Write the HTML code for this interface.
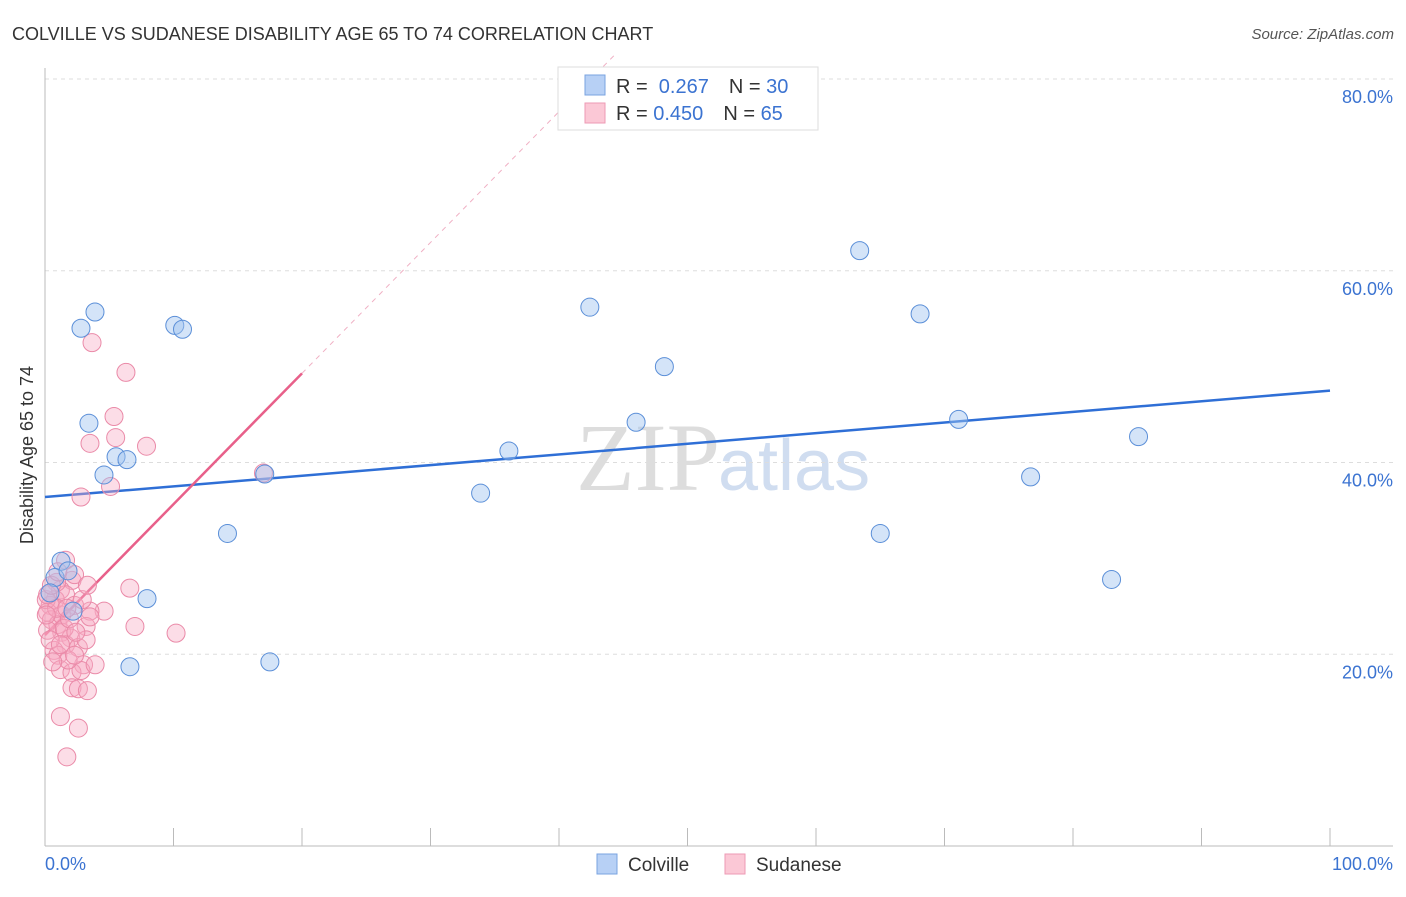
<!DOCTYPE html>
<html><head><meta charset="utf-8"><style>
body{margin:0;background:#fff;font-family:"Liberation Sans",sans-serif}
</style></head><body>
<svg width="1406" height="892" xmlns="http://www.w3.org/2000/svg" font-family="Liberation Sans, sans-serif">
<text x="12" y="40" font-size="18" fill="#333">COLVILLE VS SUDANESE DISABILITY AGE 65 TO 74 CORRELATION CHART</text>
<text x="1394" y="39" font-size="15" fill="#555" font-style="italic" text-anchor="end">Source: ZipAtlas.com</text>
<text x="720" y="490" font-size="96" fill="#ddd" text-anchor="end" font-family="Liberation Serif, serif">ZIP</text>
<text x="718" y="490" font-size="72" fill="#d0ddf0">atlas</text>
<g id="grid"></g><g id="axes"></g><g id="lines"></g><g id="pts"></g>
<text transform="translate(33,455) rotate(-90)" font-size="18" fill="#333" text-anchor="middle">Disability Age 65 to 74</text>
<text x="45" y="870" font-size="18" fill="#3b73d1">0.0%</text>
<text x="1393" y="870" font-size="18" fill="#3b73d1" text-anchor="end">100.0%</text>
<g>
<rect x="558" y="67" width="260" height="63" fill="#fff" stroke="#ddd"/>
<rect x="585" y="75" width="20" height="20" fill="#b7d0f5" stroke="#7aa3e0"/>
<rect x="585" y="103" width="20" height="20" fill="#fbc8d6" stroke="#ee9ab4"/>
<text x="616" y="93" font-size="20" fill="#333">R = <tspan fill="#3b73d1">&#160;0.267</tspan><tspan dx="20">N = </tspan><tspan fill="#3b73d1">30</tspan></text>
<text x="616" y="120" font-size="20" fill="#333">R = <tspan fill="#3b73d1">0.450</tspan><tspan dx="20">N = </tspan><tspan fill="#3b73d1">65</tspan></text>
</g>
<g>
<rect x="597" y="854" width="20" height="20" fill="#b7d0f5" stroke="#7aa3e0"/>
<text x="628" y="871" font-size="19" fill="#333">Colville</text>
<rect x="725" y="854" width="20" height="20" fill="#fbc8d6" stroke="#ee9ab4"/>
<text x="756" y="871" font-size="19" fill="#333">Sudanese</text>
</g>
</svg>
<script>
const yTicks=[20,40,60,80];
const yTickLabels=["20.0%","40.0%","60.0%","80.0%"];
const xTicks=[0,10,20,30,40,50,60,70,80,90,100];
const colvilleX=[3.89,2.80,10.1,10.7,42.4,63.4,68.1,48.2,3.42,46.0,71.1,85.1,36.1,5.53,6.38,4.59,17.1,76.7,33.9,14.2,65.0,1.25,0.78,1.79,83.0,7.94,2.18,6.61,17.5,0.39];
const colvilleY=[55.7,54.0,54.3,53.9,56.2,62.1,55.5,50.0,44.1,44.2,44.5,42.7,41.2,40.6,40.3,38.7,38.8,38.5,36.8,32.6,32.6,29.7,28.0,28.7,27.8,25.8,24.5,18.7,19.2,26.4];
const sudaneseX=[3.66,6.3,5.37,3.5,5.5,7.9,5.1,2.8,17.0,6.6,4.6,7.0,10.2,3.5,3.2,2.1,1.6,2.3,1.2,0.8,0.4,0.2,0.5,1.0,1.3,2.0,1.6,0.7,2.6,1.0,3.2,1.2,3.0,2.1,2.8,2.1,2.6,3.3,1.2,2.6,1.7,1.6,0.9,0.2,2.3,1.3,0.4,1.8,3.5,0.1,0.9,1.5,1.9,0.2,2.4,0.5,2.9,1.2,2.3,0.1,1.0,1.7,3.3,0.6,3.9];
const sudaneseY=[52.5,49.4,44.8,42.0,42.6,41.7,37.5,36.4,38.9,26.9,24.5,22.9,22.2,24.5,22.9,27.7,29.8,28.3,26.7,25.7,25.1,24.4,23.6,23.1,22.3,21.7,21.0,20.4,20.7,19.9,21.5,18.4,18.9,18.1,18.3,16.5,16.4,16.2,13.5,12.3,9.3,26.2,27.5,22.5,25.1,24.1,21.5,19.4,23.9,25.7,24.8,22.7,23.7,26.2,22.3,27.2,25.7,21.0,19.9,24.1,28.6,24.8,27.2,19.2,18.9];
const colvilleTrend=[36.4,47.5];
const sudaneseTrend=[22.0,49.3];
const NS="http://www.w3.org/2000/svg";
const X=v=>45+v*12.85, Y=v=>846-v*9.5875;
function mk(tag,attrs,parent){const e=document.createElementNS(NS,tag);for(const k in attrs)e.setAttribute(k,attrs[k]);document.getElementById(parent).appendChild(e);return e;}
yTicks.forEach((t,i)=>{
 const g=mk('line',{x1:45,x2:1393,y1:Y(t),y2:Y(t),stroke:'#ddd','stroke-dasharray':'4,4'},'grid');
 
 
 const tx=mk('text',{x:1393,y:Y(t)+24,'font-size':18,fill:'#3b73d1','text-anchor':'end'},'grid');
 tx.textContent=yTickLabels[i];
 
 
});
let a=mk('line',{x1:45,x2:45,y1:68,y2:846,stroke:'#bbb'},'axes');


a=mk('line',{x1:45,x2:1393,y1:846,y2:846,stroke:'#bbb'},'axes');


xTicks.forEach(t=>{const l=mk('line',{x1:X(t),x2:X(t),y1:828,y2:846,stroke:'#bbb'},'axes');
 
 });
let l=mk('line',{x1:X(0),y1:Y(colvilleTrend[0]),x2:X(100),y2:Y(colvilleTrend[1]),stroke:'#2f6fd6','stroke-width':2.5},'lines');


const slope=(sudaneseTrend[1]-sudaneseTrend[0])/20;
const xEnd=(80-sudaneseTrend[0])/slope+2;
l=mk('line',{x1:X(20),y1:Y(sudaneseTrend[1]),x2:X(xEnd),y2:Y(sudaneseTrend[0]+slope*xEnd),stroke:'#f0b0c4','stroke-width':1,'stroke-dasharray':'5,5'},'lines');


l=mk('line',{x1:X(0),y1:Y(sudaneseTrend[0]),x2:X(20),y2:Y(sudaneseTrend[1]),stroke:'#e8608a','stroke-width':2.5},'lines');


sudaneseX.forEach((x,i)=>{const c=mk('circle',{cx:X(x),cy:Y(sudaneseY[i]),r:9,fill:'rgba(247,170,195,0.4)',stroke:'#ea8aa8','stroke-width':1},'pts');
 
 });
colvilleX.forEach((x,i)=>{const c=mk('circle',{cx:X(x),cy:Y(colvilleY[i]),r:9,fill:'rgba(160,195,240,0.45)',stroke:'#5b8fd8','stroke-width':1},'pts');
 
 });
</script>
</body></html>
